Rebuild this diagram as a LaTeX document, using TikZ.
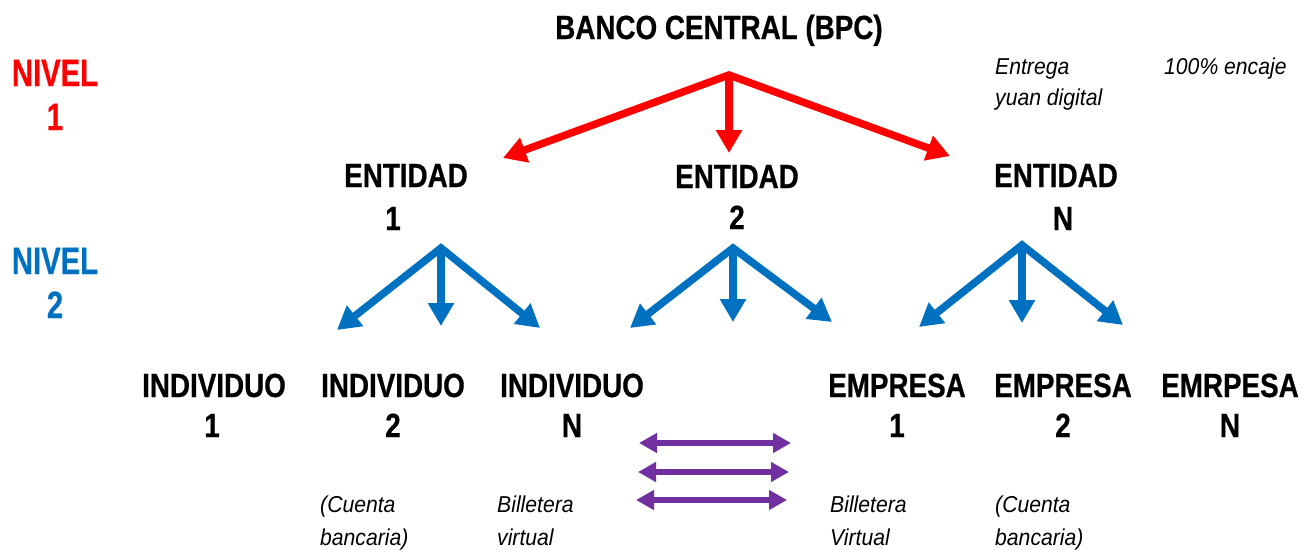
\documentclass[tikz,border=0pt]{standalone}
\usepackage{fontspec}
\setmainfont{Liberation Sans}
\newfontfamily\bfam{Liberation Sans}[FakeStretch=0.83,FakeBold=0.6]
\newfontfamily\nfam{Liberation Sans}[FakeStretch=0.77,FakeBold=0.6]
\newfontfamily\ifam{Liberation Sans}[FakeStretch=0.92]
\usetikzlibrary{arrows.meta}
\definecolor{cred}{RGB}{255,0,0}
\definecolor{cblue}{RGB}{0,112,192}
\definecolor{cpurple}{RGB}{112,48,160}
\begin{document}
\begin{tikzpicture}[x=1pt,y=-1pt,
 lbl/.style={anchor=base,inner sep=0pt,font=\bfam\bfseries\fontsize{33.5}{40}\selectfont},
 niv/.style={anchor=base,inner sep=0pt,font=\nfam\bfseries\fontsize{38}{44}\selectfont},
 note/.style={anchor=base west,inner sep=0pt,font=\ifam\itshape\fontsize{23}{30}\selectfont},
 redarr/.style={draw=cred,line width=7.5pt},
 bluearr/.style={draw=cblue,line width=7.5pt},
 purarr/.style={draw=cpurple,line width=5.5pt,{Triangle[width=19pt,length=18pt]}-{Triangle[width=19pt,length=18pt]}},
]
\useasboundingbox (0,0) rectangle (1312,549);

% texts
\node[lbl] (bpc) at (719,39) {BANCO CENTRAL (BPC)};
\node[niv,text=cred] (n1a) at (55,86) {NIVEL};
\node[niv,text=cred] (n1b) at (55,130) {1};
\node[niv,text=cblue] (n2a) at (55,274) {NIVEL};
\node[niv,text=cblue] (n2b) at (55,318) {2};

\node[lbl] (e1a) at (406,187) {ENTIDAD};
\node[lbl] (e1b) at (393,230) {1};
\node[lbl] (e2a) at (737,188) {ENTIDAD};
\node[lbl] (e2b) at (737,229) {2};
\node[lbl] (eNa) at (1056,187) {ENTIDAD};
\node[lbl] (eNb) at (1063,230) {N};

\node[lbl] (i1a) at (214,397) {INDIVIDUO};
\node[lbl] (i1b) at (212,437) {1};
\node[lbl] (i2a) at (393,397) {INDIVIDUO};
\node[lbl] (i2b) at (393,437) {2};
\node[lbl] (iNa) at (572,397) {INDIVIDUO};
\node[lbl] (iNb) at (572,437) {N};

\node[lbl] (m1a) at (897,397) {EMPRESA};
\node[lbl] (m1b) at (897,437) {1};
\node[lbl] (m2a) at (1063,397) {EMPRESA};
\node[lbl] (m2b) at (1063,437) {2};
\node[lbl] (mNa) at (1230,397) {EMRPESA};
\node[lbl] (mNb) at (1230,437) {N};

\node[note] (t1a) at (995,74) {Entrega};
\node[note] (t1b) at (995,105) {yuan digital};
\node[note] (t2) at (1164,74) {100\% encaje};

\node[note] (c1a) at (320,512) {(Cuenta};
\node[note] (c1b) at (320,545) {bancaria)};
\node[note] (b1a) at (497,512) {Billetera};
\node[note] (b1b) at (497,545) {virtual};
\node[note] (b2a) at (830,512) {Billetera};
\node[note] (b2b) at (830,545) {Virtual};
\node[note] (c2a) at (995,512) {(Cuenta};
\node[note] (c2b) at (995,545) {bancaria)};

% red arrows
\coordinate (r0) at (729,75);
\coordinate (rl) at (503,158);
\coordinate (rm) at (729,153);
\coordinate (rr) at (950,156);
\draw[redarr,{Triangle[width=25pt,length=23pt]}-{Triangle[width=25pt,length=23pt]}] (rl) -- (r0) -- (rr);
\draw[redarr,-{Triangle[width=25pt,length=23pt]}] (r0) -- (rm);

% blue arrows
\foreach \n/\ox/\oy/\lx/\ly/\mx/\my/\rx/\ry in {a/441/248/337/330/441/326/540/328, b/733/248/630/328/733/322/832/322, c/1022/245/919/327/1022/323/1123/325}{
  \coordinate (bo\n) at (\ox,\oy);
  \coordinate (bl\n) at (\lx,\ly);
  \coordinate (bm\n) at (\mx,\my);
  \coordinate (br\n) at (\rx,\ry);
  \draw[bluearr,{Triangle[width=25pt,length=23pt]}-{Triangle[width=25pt,length=23pt]}] (bl\n) -- (bo\n) -- (br\n);
  \draw[bluearr,-{Triangle[width=25pt,length=23pt]}] (bo\n) -- (bm\n);
}

% purple arrows
\coordinate (p1l) at (639,443); \coordinate (p1r) at (791,443);
\coordinate (p2l) at (638,472); \coordinate (p2r) at (789,472);
\coordinate (p3l) at (636,500); \coordinate (p3r) at (787,500);
\draw[purarr] (p1l) -- (p1r);
\draw[purarr] (p2l) -- (p2r);
\draw[purarr] (p3l) -- (p3r);
\end{tikzpicture}
\end{document}
